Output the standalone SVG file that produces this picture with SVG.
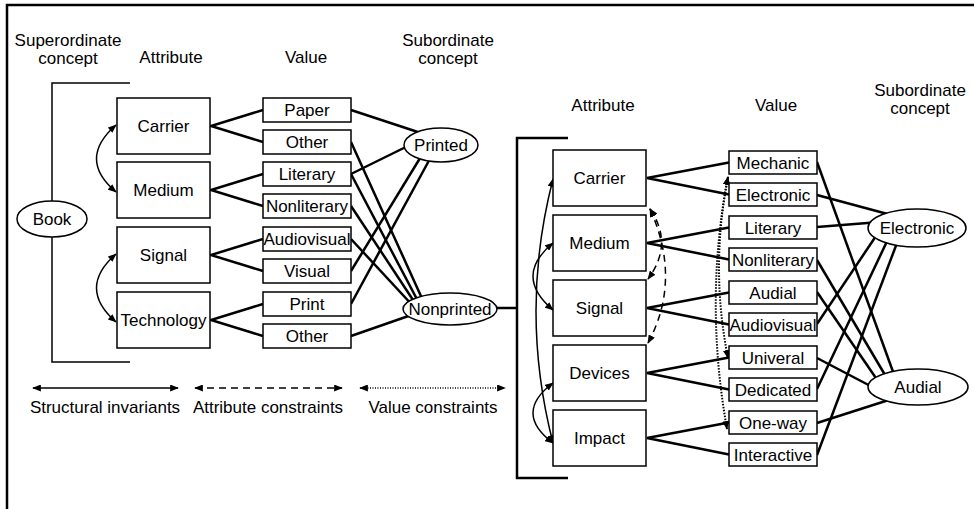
<svg xmlns="http://www.w3.org/2000/svg" width="974" height="509" viewBox="0 0 974 509">
<style>
text{font-family:"Liberation Sans",Arial,sans-serif;font-size:17px;fill:#000;text-anchor:middle}
.box{fill:#fff;stroke:#000;stroke-width:1.5}
.ell{fill:#fff;stroke:#000;stroke-width:1.5}
.thick{stroke:#000;stroke-width:2.5;fill:none}
.thin{stroke:#000;stroke-width:1.5;fill:none}
.arc{stroke:#000;stroke-width:1.5;fill:none;marker-start:url(#ah);marker-end:url(#ah)}
.dash{stroke:#000;stroke-width:1.5;fill:none;stroke-dasharray:7 5;marker-start:url(#ah);marker-end:url(#ah)}
.dot{stroke:#000;stroke-width:2;fill:none;stroke-dasharray:1.5 1.5;marker-start:url(#ah);marker-end:url(#ah)}
</style>
<defs>
<marker id="ah" viewBox="0 0 10 8" refX="9" refY="4" markerWidth="9" markerHeight="7" markerUnits="userSpaceOnUse" orient="auto-start-reverse">
<path d="M0,0 L10,4 L0,8 Z" fill="#000"/>
</marker>
</defs>
<rect width="974" height="509" fill="#fff"/>
<path d="M7,509 V5 H974" class="thick"/>

<g id="headers">
<text x="68" y="46">Superordinate</text>
<text x="68" y="64">concept</text>
<text x="171" y="63">Attribute</text>
<text x="306" y="63">Value</text>
<text x="448" y="46">Subordinate</text>
<text x="448" y="64">concept</text>
<text x="603" y="111">Attribute</text>
<text x="776" y="111">Value</text>
<text x="920" y="96">Subordinate</text>
<text x="920" y="114">concept</text>
</g>

<g id="connectors">
<path class="thin" d="M130,83 H52 V362 H130"/>
<path class="thick" d="M568,138 H517 V478 H568"/>
<path class="thick" d="M497,308 H517"/>
<!-- left attribute to value -->
<path class="thick" d="M263,110 L211,126 L263,142"/>
<path class="thick" d="M263,174 L211,190 L263,206"/>
<path class="thick" d="M263,239 L211,255 L263,271"/>
<path class="thick" d="M263,304 L211,320 L263,336"/>
<!-- left value to concepts -->
<path class="thick" d="M351,110 L430,136"/>
<path class="thick" d="M351,174 L420,140"/>
<path class="thick" d="M351,271 L425,150"/>
<path class="thick" d="M351,304 L432,155"/>
<path class="thick" d="M351,142 L425,305"/>
<path class="thick" d="M351,174 L420,305"/>
<path class="thick" d="M351,206 L417,306"/>
<path class="thick" d="M351,239 L414,307"/>
<path class="thick" d="M351,336 L420,312"/>
<!-- right attribute to value -->
<path class="thick" d="M729,162.5 L647,178 L729,194.5"/>
<path class="thick" d="M729,227.5 L647,243 L729,259.5"/>
<path class="thick" d="M729,292.5 L647,308 L729,324.5"/>
<path class="thick" d="M729,357.5 L647,373 L729,389.5"/>
<path class="thick" d="M729,422.5 L647,438 L729,454.5"/>
<!-- right value to concepts -->
<path class="thick" d="M817,162 L896,380"/>
<path class="thick" d="M817,195 L895,216"/>
<path class="thick" d="M817,227 L880,222"/>
<path class="thick" d="M817,260 L888,380"/>
<path class="thick" d="M817,292 L880,384"/>
<path class="thick" d="M817,324 L880,230"/>
<path class="thick" d="M817,358 L880,391"/>
<path class="thick" d="M817,389 L890,235"/>
<path class="thick" d="M817,423 L895,398"/>
<path class="thick" d="M817,455 L900,235"/>
<!-- structural invariants -->
<path class="arc" d="M116,125 Q77,159 116,192"/>
<path class="arc" d="M116,254 Q77,288 116,322"/>
<path class="arc" d="M553,179 Q519,311 553,443"/>
<path class="arc" d="M553,243 Q513,276 553,310"/>
<path class="arc" d="M553,383 Q513,413 553,443"/>
<!-- attribute constraints -->
<path class="dash" d="M650,209 Q674,244 648,279"/>
<path class="dash" d="M650,209 Q682,280 648,343"/>
<!-- value constraints -->
<path class="dot" d="M728,177 Q710,268 728,358"/>
<path class="dot" d="M728,177 Q704,300 727,429"/>
<!-- legend -->
<path class="thin" d="M33,388 H178" style="marker-start:url(#ah);marker-end:url(#ah)"/>
<path class="dash" d="M195,388 H342"/>
<path class="thin" d="M360,388 H505" style="stroke-dasharray:1 1.5;marker-start:url(#ah);marker-end:url(#ah)"/>
</g>

<g id="legend">
<text x="105" y="413">Structural invariants</text>
<text x="268" y="413">Attribute constraints</text>
<text x="433" y="413">Value constraints</text>
</g>

<g id="book"><ellipse class="ell" cx="52" cy="219" rx="35" ry="18"/><text x="52" y="225">Book</text></g>

<g id="l-carrier"><rect class="box" x="117" y="98" width="93" height="56"/><text x="163.5" y="132">Carrier</text></g>
<g id="l-medium"><rect class="box" x="117" y="162" width="93" height="56"/><text x="163.5" y="196">Medium</text></g>
<g id="l-signal"><rect class="box" x="117" y="227" width="93" height="56"/><text x="163.5" y="261">Signal</text></g>
<g id="l-technology"><rect class="box" x="117" y="292" width="93" height="56"/><text x="163.5" y="326">Technology</text></g>

<g id="l-paper"><rect class="box" x="263" y="98" width="88" height="24"/><text x="307" y="116">Paper</text></g>
<g id="l-other1"><rect class="box" x="263" y="130" width="88" height="24"/><text x="307" y="148">Other</text></g>
<g id="l-literary"><rect class="box" x="263" y="162" width="88" height="24"/><text x="307" y="180">Literary</text></g>
<g id="l-nonliterary"><rect class="box" x="263" y="194" width="88" height="24"/><text x="307" y="212">Nonliterary</text></g>
<g id="l-audiovisual"><rect class="box" x="263" y="227" width="88" height="24"/><text x="307" y="245">Audiovisual</text></g>
<g id="l-visual"><rect class="box" x="263" y="259" width="88" height="24"/><text x="307" y="277">Visual</text></g>
<g id="l-print"><rect class="box" x="263" y="292" width="88" height="24"/><text x="307" y="310">Print</text></g>
<g id="l-other2"><rect class="box" x="263" y="324" width="88" height="24"/><text x="307" y="342">Other</text></g>

<g id="printed"><ellipse class="ell" cx="441" cy="145" rx="37" ry="17"/><text x="441" y="151">Printed</text></g>
<g id="nonprinted"><ellipse class="ell" cx="450" cy="309" rx="47" ry="16"/><text x="450" y="315">Nonprinted</text></g>

<g id="r-carrier"><rect class="box" x="553" y="150" width="93" height="56"/><text x="599.5" y="184">Carrier</text></g>
<g id="r-medium"><rect class="box" x="553" y="215" width="93" height="56"/><text x="599.5" y="249">Medium</text></g>
<g id="r-signal"><rect class="box" x="553" y="280" width="93" height="56"/><text x="599.5" y="314">Signal</text></g>
<g id="r-devices"><rect class="box" x="553" y="345" width="93" height="56"/><text x="599.5" y="379">Devices</text></g>
<g id="r-impact"><rect class="box" x="553" y="410" width="93" height="56"/><text x="599.5" y="444">Impact</text></g>

<g id="r-mechanic"><rect class="box" x="729" y="151" width="88" height="23"/><text x="773" y="168.5">Mechanic</text></g>
<g id="r-electronic"><rect class="box" x="729" y="183" width="88" height="23"/><text x="773" y="200.5">Electronic</text></g>
<g id="r-literary"><rect class="box" x="729" y="216" width="88" height="23"/><text x="773" y="233.5">Literary</text></g>
<g id="r-nonliterary"><rect class="box" x="729" y="248" width="88" height="23"/><text x="773" y="265.5">Nonliterary</text></g>
<g id="r-audial"><rect class="box" x="729" y="281" width="88" height="23"/><text x="773" y="298.5">Audial</text></g>
<g id="r-audiovisual"><rect class="box" x="729" y="313" width="88" height="23"/><text x="773" y="330.5">Audiovisual</text></g>
<g id="r-univeral"><rect class="box" x="729" y="346" width="88" height="23"/><text x="773" y="363.5">Univeral</text></g>
<g id="r-dedicated"><rect class="box" x="729" y="378" width="88" height="23"/><text x="773" y="395.5">Dedicated</text></g>
<g id="r-oneway"><rect class="box" x="729" y="411" width="88" height="23"/><text x="773" y="428.5">One-way</text></g>
<g id="r-interactive"><rect class="box" x="729" y="443" width="88" height="23"/><text x="773" y="460.5">Interactive</text></g>

<g id="electronic"><ellipse class="ell" cx="917" cy="228" rx="49" ry="19"/><text x="917" y="234">Electronic</text></g>
<g id="audial"><ellipse class="ell" cx="918" cy="387" rx="50" ry="18"/><text x="918" y="393">Audial</text></g>
</svg>
